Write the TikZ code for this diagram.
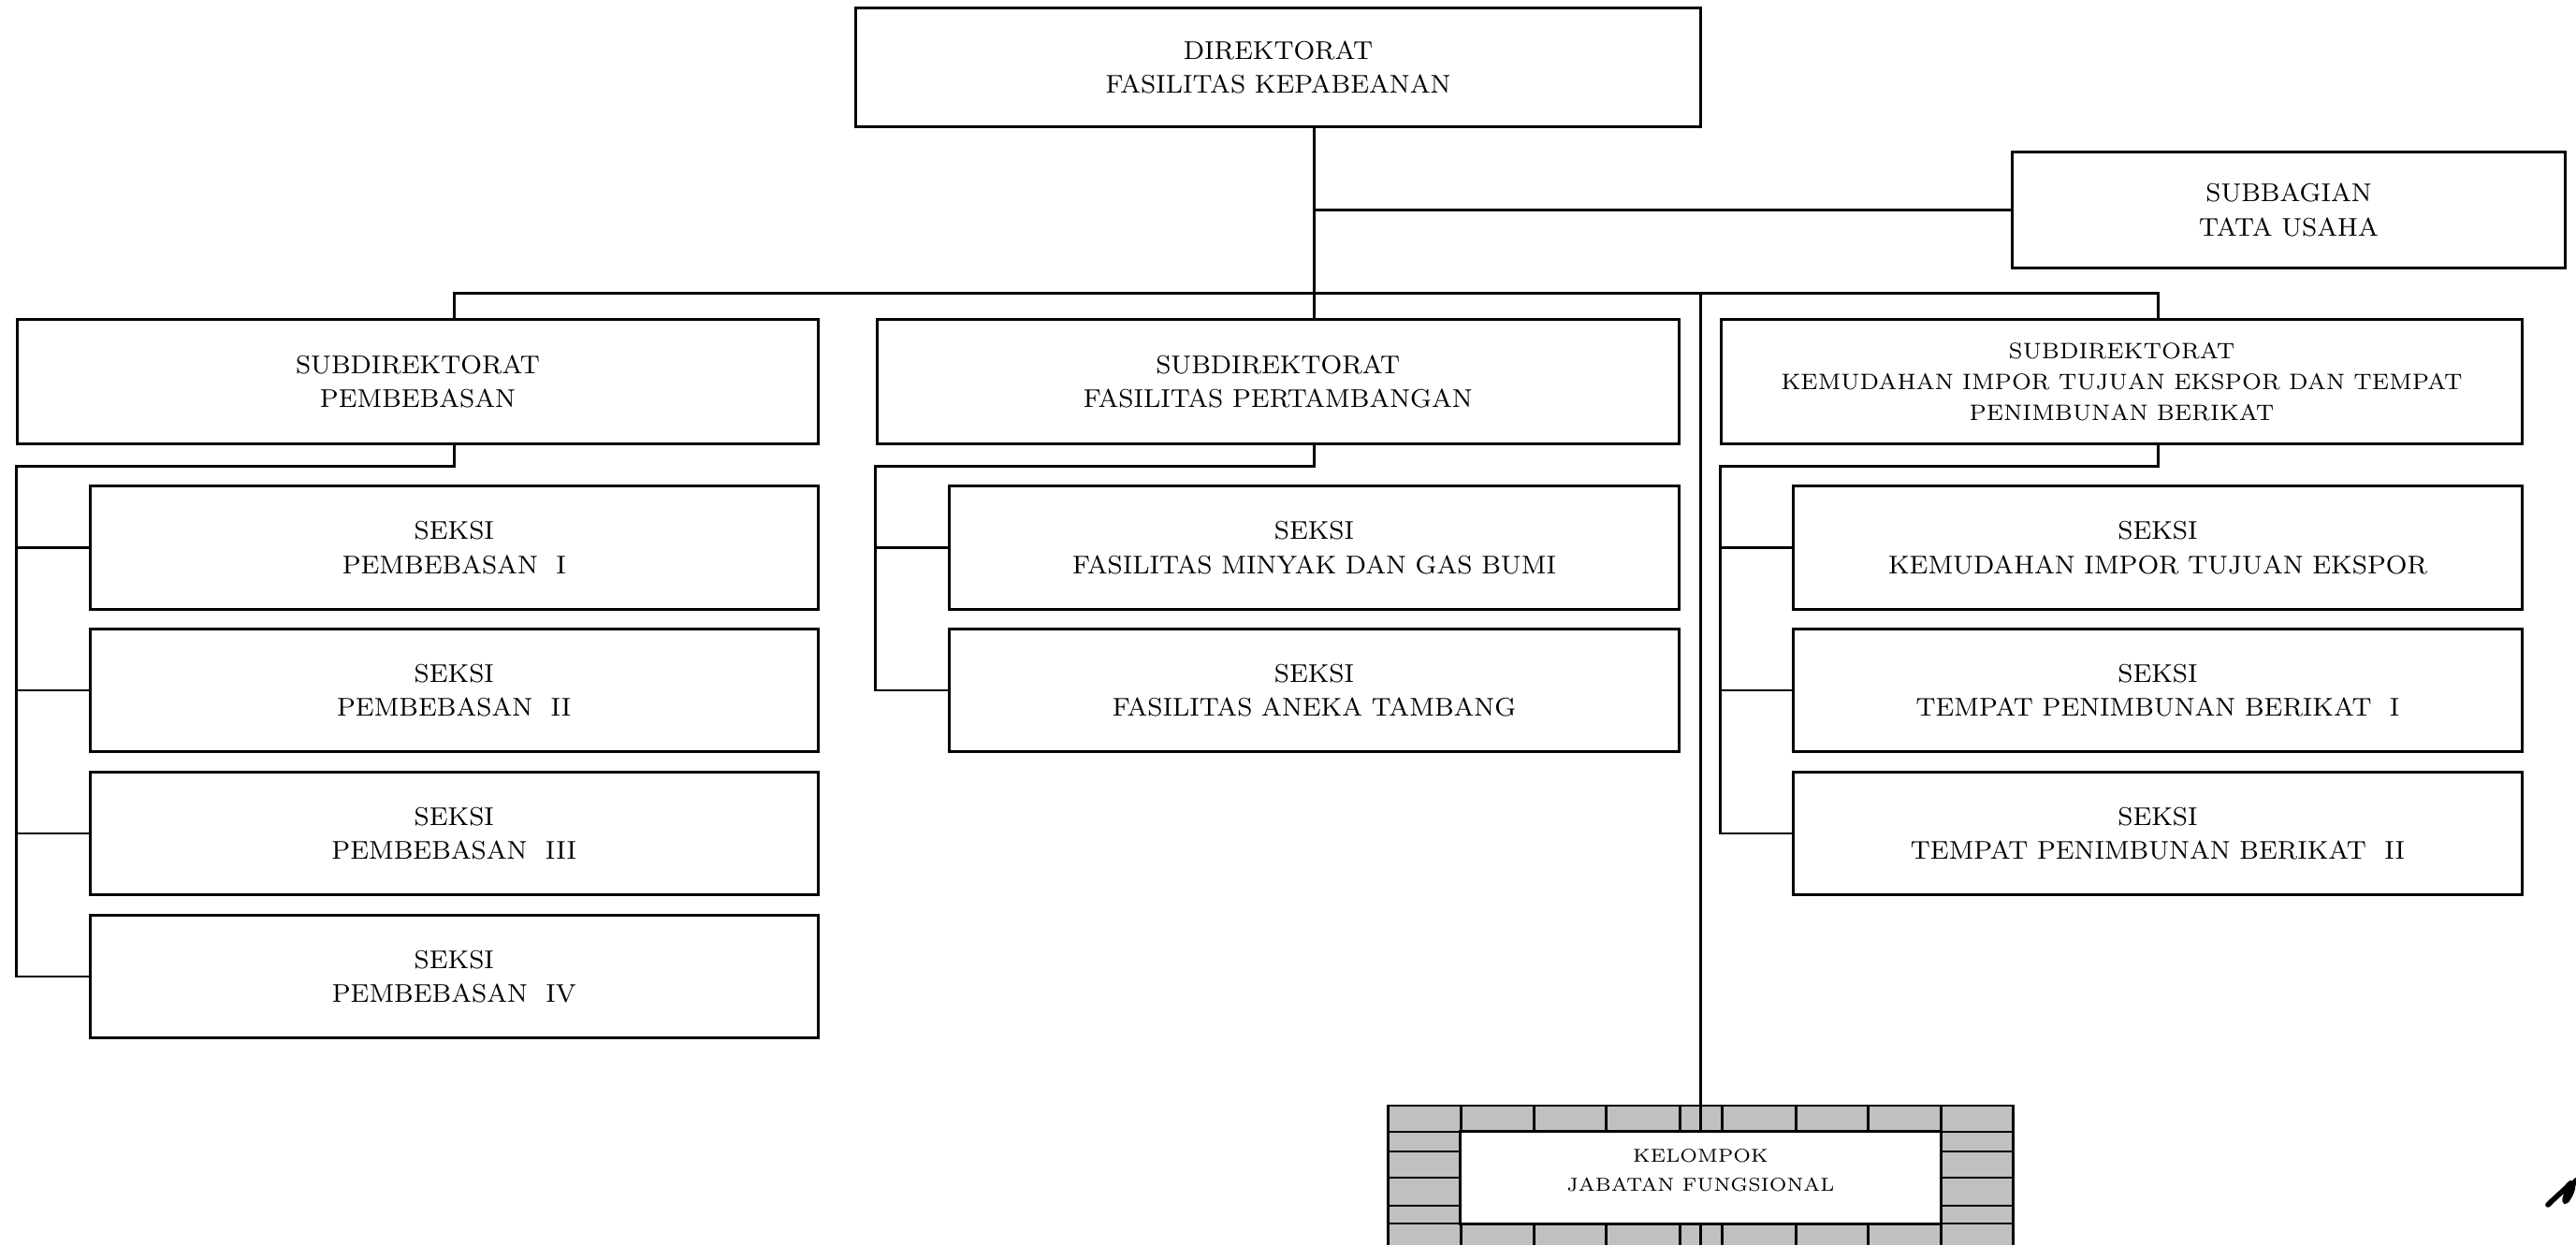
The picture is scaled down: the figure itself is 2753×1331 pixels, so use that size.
\documentclass[tikz,border=0pt]{standalone}
\usepackage{tikz}
\usetikzlibrary{positioning,calc}
\definecolor{Brick}{HTML}{C0C0C0}

\begin{document}
\begin{tikzpicture}[x=0.01cm,y=-0.01cm,
    orgbox/.style={draw,line width=0.85pt,align=center,inner sep=0pt,
      font=\fontsize{7.8}{10.4}\selectfont},
    link/.style={line width=0.85pt}]
  \useasboundingbox (0,0) rectangle (2753,1331);
  \clip (0,0) rectangle (2753,1331);
  % top level
  \node[orgbox,minimum width=9.02cm,minimum height=1.26cm] (dir) at (1366,72) {DIREKTORAT\\FASILITAS KEPABEANAN};
  \node[orgbox,minimum width=5.9cm,minimum height=1.23cm] (tu) at (2446,224.5) {SUBBAGIAN\\TATA USAHA};
  % subdirektorat
  \node[orgbox,minimum width=8.55cm,minimum height=1.32cm] (sub1) at (446.5,408) {SUBDIREKTORAT\\PEMBEBASAN};
  \node[orgbox,minimum width=8.565cm,minimum height=1.32cm] (sub2) at (1365.75,408) {SUBDIREKTORAT\\FASILITAS PERTAMBANGAN};
  \node[orgbox,minimum width=8.55cm,minimum height=1.32cm,font=\fontsize{6.8}{9.4}\selectfont] (sub3) at (2267.5,408) {SUBDIREKTORAT\\KEMUDAHAN IMPOR TUJUAN EKSPOR DAN TEMPAT\\PENIMBUNAN BERIKAT};
  % seksi
  \foreach \n/\y/\txt in {1/585.5/I,2/738/II,3/891/III,4/1044/IV}
    \node[orgbox,minimum width=7.774cm,minimum height=1.31cm] (s1\n) at (485.3,\y) {SEKSI\\PEMBEBASAN~~\txt};
  \node[orgbox,minimum width=7.79cm,minimum height=1.31cm] (s21) at (1404.5,585.5) {SEKSI\\FASILITAS MINYAK DAN GAS BUMI};
  \node[orgbox,minimum width=7.79cm,minimum height=1.31cm] (s22) at (1404.5,738) {SEKSI\\FASILITAS ANEKA TAMBANG};
  \node[orgbox,minimum width=7.78cm,minimum height=1.31cm] (s31) at (2306,585.5) {SEKSI\\KEMUDAHAN IMPOR TUJUAN EKSPOR};
  \node[orgbox,minimum width=7.78cm,minimum height=1.31cm] (s32) at (2306,738) {SEKSI\\TEMPAT PENIMBUNAN BERIKAT~~I};
  \node[orgbox,minimum width=7.78cm,minimum height=1.31cm] (s33) at (2306,891) {SEKSI\\TEMPAT PENIMBUNAN BERIKAT~~II};
  % kelompok jabatan fungsional (brick frame)
  \fill[Brick] (1483,1182) rectangle (2151,1345);
  \draw[link] (1483,1182) rectangle (2151,1345);
  \draw[link] (1483,1210) -- (2151,1210);
  \draw[link] (1483,1308) -- (2151,1308);
  \foreach \y in {1231,1259,1289} {
    \draw[link] (1483,\y) -- (1561,\y);
    \draw[link] (2074,\y) -- (2151,\y);
  }
  \foreach \x in {1561,1639,1716,1795,1840,1919,1996,2074} {
    \draw[link] (\x,1182) -- (\x,1210);
    \draw[link] (\x,1308) -- (\x,1345);
  }
  \draw[link] (1817.5,1308) -- (1817.5,1345);
  \node[orgbox,fill=white,minimum width=5.13cm,minimum height=0.98cm,font=\fontsize{5.7}{8.6}\selectfont] (jf) at (1817.5,1259)
    {\raisebox{2pt}[\height][\depth]{\begin{tabular}{@{}c@{}}KELOMPOK\\JABATAN FUNGSIONAL\end{tabular}}};
  % connectors
  \coordinate (bus) at (0,314);
  \draw[link] (dir.south -| s21.north) -- (sub2.north -| s21.north);
  \draw[link] (tu.west) -- (tu.west -| s21.north);
  \draw[link] (sub1.north -| s11.north) -- (bus -| s11.north) -- (bus -| s31.north) -- (sub3.north -| s31.north);
  \draw[link] (bus -| jf.north) -- (jf.north);
  \draw[link] (sub1.south -| s11.north) -- ++(0,23) -| (s14.west -| sub1.west) -- (s14.west);
  \foreach \s in {s11,s12,s13}
    \draw[link] (\s.west) -- (\s.west -| sub1.west);
  \draw[link] (sub2.south -| s21.north) -- ++(0,23) -| (s22.west -| sub2.west) -- (s22.west);
  \draw[link] (s21.west) -- (s21.west -| sub2.west);
  \draw[link] (sub3.south -| s31.north) -- ++(0,23) -| (s33.west -| sub3.west) -- (s33.west);
  \foreach \s in {s31,s32}
    \draw[link] (\s.west) -- (\s.west -| sub3.west);
  % mark in the corner
  \draw[line width=1.6pt,line cap=round] (2723,1288) .. controls (2732,1279) and (2741,1272) .. (2746,1266)
    .. controls (2750,1262) and (2752,1270) .. (2744,1282) .. controls (2740,1288) and (2738,1280) .. (2753,1262);
\end{tikzpicture}
\end{document}
